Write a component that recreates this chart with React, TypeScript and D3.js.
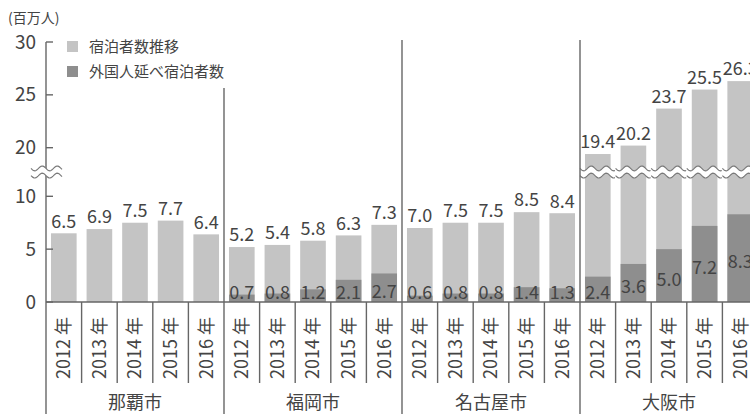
import React from "react";
import * as d3 from "d3";

// 単位: 百万人
const years = ["2012", "2013", "2014", "2015", "2016"];
const cities = ["那覇市", "福岡市", "名古屋市", "大阪市"];

const nahaTotal = [6.5, 6.9, 7.5, 7.7, 6.4];
const fukuokaTotal = [5.2, 5.4, 5.8, 6.3, 7.3];
const nagoyaTotal = [7.0, 7.5, 7.5, 8.5, 8.4];
const osakaTotal = [19.4, 20.2, 23.7, 25.5, 26.3];

const nahaForeign: (number | null)[] = [null, null, null, null, null];
const fukuokaForeign = [0.7, 0.8, 1.2, 2.1, 2.7];
const nagoyaForeign = [0.6, 0.8, 0.8, 1.4, 1.3];
const osakaForeign = [2.4, 3.6, 5.0, 7.2, 8.3];

const yTicks = [0, 5, 10, 20, 25, 30];
const legendLabels = ["宿泊者数推移", "外国人延べ宿泊者数"];

const totals = [nahaTotal, fukuokaTotal, nagoyaTotal, osakaTotal];
const foreigns = [nahaForeign, fukuokaForeign, nagoyaForeign, osakaForeign];

const rows = cities.flatMap((city, ci) =>
  years.map((year, yi) => ({
    key: `${city}-${year}`,
    city,
    year,
    total: totals[ci][yi],
    foreign: foreigns[ci][yi],
  }))
);

const W = 750;
const H = 414;
const left = 46;
const base = 302;
const breakY = 172;
const font = "'Noto Sans CJK JP', 'Noto Sans', sans-serif";
const light = "#c4c4c4";
const dark = "#8e8e8e";
const ink = "#444";
const axis = "#666";

const x = d3
  .scaleBand()
  .domain(rows.map((d) => d.key))
  .range([left, left + 35.6 * rows.length])
  .paddingInner(0.28)
  .paddingOuter(0.14);

// broken axis: 12.3〜17.7 is cut out
const y = d3
  .scaleLinear()
  .domain([0, 12.3, 17.7, 30])
  .range([base, breakY, breakY, 42]);

const step = x.step();
const edge = (d: { key: string }) => (x(d.key) as number) - (step * 0.28) / 2;

function wavePath(x0: number, x1: number, yc: number, amp = 2.4, period = 15) {
  const pts = d3.range(x0, x1 + 0.5, 1).map((px) => [px, yc + amp * Math.sin(((px - x0) / period) * 2 * Math.PI)] as [number, number]);
  return d3.line()(pts) as string;
}

function Break({ x0, x1, yc }: { x0: number; x1: number; yc: number }) {
  const gap = 3.6;
  const top = d3.range(x0, x1 + 0.5, 1).map((px) => [px, yc - gap + 2.4 * Math.sin(((px - x0) / 15) * 2 * Math.PI)] as [number, number]);
  const bot = top.map(([px, py]) => [px, py + gap * 2] as [number, number]).reverse();
  const fill = (d3.line()(top.concat(bot)) as string) + "Z";
  return (
    <g>
      <path d={fill} fill="#fff" />
      <path d={wavePath(x0, x1, yc - gap)} fill="none" stroke="#7a7a7a" strokeWidth={1.2} />
      <path d={wavePath(x0, x1, yc + gap)} fill="none" stroke="#7a7a7a" strokeWidth={1.2} />
    </g>
  );
}

function App() {
  const bw = x.bandwidth();
  return (
    <svg
      width={W}
      height={H}
      style={{ position: "absolute", left: 0, top: 0, background: "#fff", fontFamily: font }}
    >
      <text x={8} y={23} fontSize={14} fill={ink}>(百万人)</text>

      {/* bars */}
      {rows.map((d) => {
        const bx = x(d.key) as number;
        return (
          <g key={d.key}>
            <rect x={bx} y={y(d.total)} width={bw} height={base - y(d.total)} fill={light} />
            {d.foreign != null && (
              <rect x={bx} y={y(d.foreign)} width={bw} height={base - y(d.foreign)} fill={dark} />
            )}
            {d.total > 17.7 && <Break x0={bx - 5} x1={bx + bw + 4} yc={breakY} />}
          </g>
        );
      })}

      {/* axes */}
      <line x1={left} x2={W} y1={base} y2={base} stroke={axis} strokeWidth={1.4} />
      <line x1={left} x2={left} y1={42} y2={H} stroke={axis} strokeWidth={1.4} />
      {yTicks.map((t) => (
        <g key={t}>
          <line x1={left} x2={left + 7} y1={y(t)} y2={y(t)} stroke={axis} strokeWidth={1.4} />
          <text x={36} y={y(t)} dy="0.35em" textAnchor="end" fontSize={19} fill={ink}>
            {t}
          </text>
        </g>
      ))}
      <Break x0={31} x1={62} yc={breakY} />

      {/* separators */}
      {rows.map((d, i) => {
        if (i === 0) return null;
        const gx = edge(d);
        const group = d.year === years[0];
        const top = group ? (i === 5 ? 88 : 40) : base;
        return <line key={d.key} x1={gx} x2={gx} y1={top} y2={group ? H : 383} stroke={axis} strokeWidth={1.4} />;
      })}

      {/* value labels */}
      {rows.map((d) => {
        const cx = (x(d.key) as number) + bw / 2;
        const fy = d.foreign != null ? Math.min(base - 9, (y(d.foreign) + base) / 2 + 4) : 0;
        return (
          <g key={d.key} fontSize={18} fill={ink} textAnchor="middle">
            <text x={cx} y={y(d.total) - 12} dy="0.35em">{d.total.toFixed(1)}</text>
            {d.foreign != null && (
              <text x={cx} y={fy} dy="0.35em">{d.foreign.toFixed(1)}</text>
            )}
          </g>
        );
      })}

      {/* year labels */}
      {rows.map((d) => {
        const cx = (x(d.key) as number) + bw / 2;
        return (
          <text
            key={d.key}
            transform={`translate(${cx},379) rotate(-90)`}
            dy="0.35em"
            fontSize={18}
            fill={ink}
          >
            {`${d.year} 年`}
          </text>
        );
      })}

      {/* city labels */}
      {cities.map((c) => {
        const first = rows.find((r) => r.city === c)!;
        const cx = edge(first) + step * 2.5;
        return (
          <text key={c} x={cx} y={403} dy="0.35em" textAnchor="middle" fontSize={18} fill={ink}>
            {c}
          </text>
        );
      })}

      {/* legend */}
      {legendLabels.map((l, i) => (
        <g key={l} transform={`translate(67,${41 + i * 25})`}>
          <rect width={11} height={11} fill={i === 0 ? light : dark} />
          <text x={22} y={5.5} dy="0.35em" fontSize={15} fill={ink}>{l}</text>
        </g>
      ))}
    </svg>
  );
}

export default App;
